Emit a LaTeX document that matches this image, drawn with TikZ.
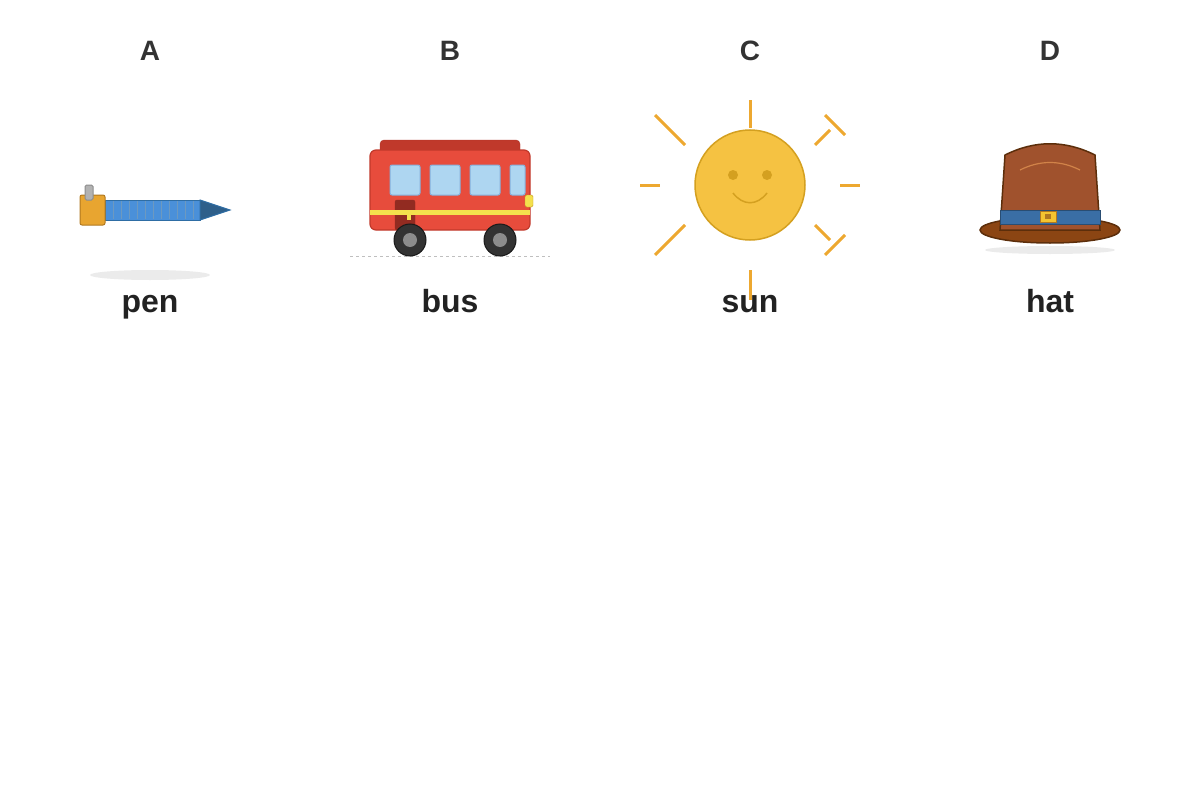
\documentclass[tikz,border=0pt]{standalone}
\usepackage{fontspec}
\setmainfont{Liberation Sans}
\usetikzlibrary{positioning}
\definecolor{letter}{HTML}{333333}
\definecolor{word}{HTML}{222222}
\definecolor{sunfill}{HTML}{F5C242}
\definecolor{sunline}{HTML}{D4A020}
\definecolor{ray}{HTML}{EDA830}
\definecolor{busred}{HTML}{E74C3C}
\definecolor{busdark}{HTML}{C0392B}
\definecolor{glass}{HTML}{AED6F1}
\definecolor{glassline}{HTML}{85B0DC}
\definecolor{door}{HTML}{922B21}
\definecolor{stripe}{HTML}{F4E04D}
\definecolor{penblue}{HTML}{4A90D9}
\definecolor{penline}{HTML}{2E6DA4}
\definecolor{pentip}{HTML}{2E5F8A}
\definecolor{capfill}{HTML}{E8A530}
\definecolor{capline}{HTML}{B07820}
\definecolor{brim}{HTML}{8B4513}
\definecolor{hatline}{HTML}{5C2E0B}
\definecolor{crown}{HTML}{A0522D}
\definecolor{band}{HTML}{3A6EA5}
\definecolor{buckle}{HTML}{F4C430}
\tikzset{
  letter/.style={font=\bfseries\fontsize{28}{32}\selectfont, text=letter, anchor=base, inner sep=0pt},
  word/.style={font=\bfseries\fontsize{32}{36}\selectfont, text=word, anchor=base, inner sep=0pt},
  ray/.style={draw=ray, line width=3pt},
  shadow/.style={fill=black!8}
}
\begin{document}
\begin{tikzpicture}[x=1pt,y=-1pt]
\useasboundingbox (0,0) rectangle (1200,800);

% pen
\fill[shadow] (150,275) ellipse (60 and 5);
\draw[fill=penblue, draw=penline, line width=1pt] (105,200) rectangle (200,220);
\foreach \x in {113,121,...,197} \draw[penline!70, line width=.4pt] (\x,201) -- (\x,219);
\draw[fill=pentip, draw=penline, line width=1pt] (200,200) -- (230,210) -- (200,220) -- cycle;
\draw[fill=capfill, draw=capline, line width=1pt, rounded corners=2pt] (80,195) rectangle (105,225);
\draw[fill=black!30, draw=black!45, line width=1pt, rounded corners=1.5pt] (85,185) rectangle (93,200);

% bus
\draw[dashed, black!25, line width=1pt] (350,256) -- (550,256);
\draw[fill=busdark, draw=busdark!90!black, rounded corners=4pt] (380,140) rectangle (520,155);
\draw[fill=busred, draw=busdark, line width=1.2pt, rounded corners=6pt] (370,150) rectangle (530,230);
\foreach \a/\b in {390/420, 430/460, 470/500, 510/525}
  \draw[fill=glass, draw=glassline, line width=1pt, rounded corners=2pt] (\a,165) rectangle (\b,195);
\draw[fill=door, draw=door, rounded corners=2pt] (395,200) rectangle (415,230);
\fill[stripe] (370,210) rectangle (530,215);
\fill[stripe] (407,215) rectangle (411,220);
\draw[fill=stripe, draw=buckle!80!black, rounded corners=1.5pt] (525,195) rectangle (533,207);
\foreach \x in {410,500} {
  \draw[fill=black!80, draw=black!90, line width=1pt] (\x,240) circle (16);
  \fill[black!45] (\x,240) circle (7);
}

% sun
\draw[ray] (750,100) -- (750,128);
\draw[ray] (750,270) -- (750,300);
\draw[ray] (640,185) -- (660,185);
\draw[ray] (840,185) -- (860,185);
\draw[ray] (655,115) -- (685,145);
\draw[ray] (655,255) -- (685,225);
\draw[ray] (825,115) -- (845,135);
\draw[ray] (815,145) -- (830,130);
\draw[ray] (815,225) -- (830,240);
\draw[ray] (825,255) -- (845,235);
\draw[fill=sunfill, draw=sunline, line width=1.5pt] (750,185) circle (55);
\fill[sunline] (733,175) circle (5) (767,175) circle (5);
\draw[sunline, line width=1.5pt] (733,193) .. controls (743,206) and (757,206) .. (767,193);

% hat
\fill[shadow] (1050,250) ellipse (65 and 4);
\draw[fill=brim, draw=hatline, line width=1.5pt] (1050,230) ellipse (70 and 13);
\draw[fill=crown, draw=hatline, line width=1.5pt] (1000,230) -- (1005,155)
  .. controls (1035,140) and (1065,140) .. (1095,155) -- (1100,230) -- cycle;
\draw[fill=band, draw=band!70!black, line width=1pt] (1000,210) rectangle (1100,224);
\draw[fill=buckle, draw=capline, line width=.8pt] (1040,211) rectangle (1056,222);
\fill[capline] (1045,214) rectangle (1051,219);
\draw[crown!60!orange!80!white, line width=1.2pt] (1020,170) .. controls (1040,160) and (1060,160) .. (1080,170);

% letters and words
\foreach \x/\l/\w [count=\i] in {150/A/pen, 450/B/bus, 750/C/sun, 1050/D/hat} {
  \node[letter] (let\i) at (\x,61) {\l};
  \node[word] (word\i) at (\x,312) {\w};
}
\end{tikzpicture}
\end{document}
